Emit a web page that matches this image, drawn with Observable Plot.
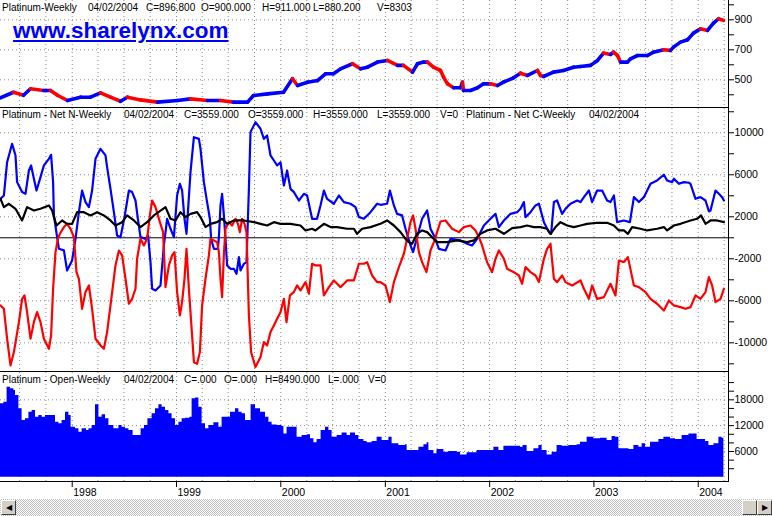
<!DOCTYPE html>
<html><head><meta charset="utf-8">
<script src="https://cdn.jsdelivr.net/npm/d3@7"></script>
<script src="https://cdn.jsdelivr.net/npm/@observablehq/plot@0.6"></script>
<style>
html,body{margin:0;padding:0;background:#fff;}
#wrap{position:relative;width:772px;height:516px;overflow:hidden;font-family:"Liberation Sans",Arial,sans-serif;color:#000;background:#fff;}
.panel{position:absolute;left:0;}
.t{position:absolute;white-space:pre;line-height:1;font-size:10px;}
.ln{position:absolute;background:#000;}
</style></head><body><div id="wrap"></div>
<script>
// ---------------- DATA (week index from 1997-04-25, value) ----------------
const seriesStart = "1997-04-25";
const priceTitle = ["Platinum-Weekly","04/02/2004","C=896.800","O=900.000","H=911.000","L=880.200","V=8303"];
const netTitle = ["Platinum - Net N-Weekly","04/02/2004","C=3559.000","O=3559.000","H=3559.000","L=3559.000","V=0","Platinum - Net C-Weekly","04/02/2004"];
const oiTitle = ["Platinum - Open-Weekly","04/02/2004","C=.000","O=.000","H=8490.000","L=.000","V=0"];
const siteLabel = "www.sharelynx.com";
const yearLabels = ["1998","1999","2000","2001","2002","2003","2004"];

const priceTicks = [400,500,600,700,800,900,1000];
const priceLabels = [500,700,900];
const netTicks = [-12000,-10000,-8000,-6000,-4000,-2000,0,2000,4000,6000,8000,10000,12000];
const netLabels = [-10000,-6000,-2000,2000,6000,10000];
const oiTicks = [2000,4000,6000,8000,10000,12000,14000,16000,18000,20000,22000];
const oiLabels = [6000,12000,18000];

const price = [[0,380],[6.5,417],[11.5,397],[15,440],[21.5,429],[25,429],[28.5,397],[33.5,362],[40,384],[45,384],[50,413],[55,384],[60,357],[63.5,384],[70,366],[78.5,351],[88.5,362],[95,373],[103.5,362],[110,362],[116.5,351],[123.5,351],[126.5,395],[133.5,406],[141.5,417],[146,507],[148.5,462],[153.5,484],[158.5,495],[162.5,540],[166.5,540],[170,573],[176,607],[180,573],[183.5,584],[188.5,618],[193.5,629],[198.5,596],[201.5,596],[206,551],[208.5,607],[211.5,618],[213.5,618],[216.5,584],[220,562],[221.5,518],[223.5,473],[226.5,447],[230,447],[231,484],[231.5,429],[235,429],[238.5,447],[241.5,473],[245,473],[248.5,462],[251.5,484],[256.5,513],[260,544],[263.5,529],[268.5,562],[270,529],[271.5,522],[276.5,551],[281.5,562],[286.5,584],[290,589],[295,596],[298.5,629],[301.5,678],[305,669],[306.5,684],[308.5,662],[310,618],[313.5,618],[315,640],[318.5,662],[323.5,662],[326.5,684],[331.5,700],[335,696],[336.5,718],[340,751],[343.5,767],[346.5,811],[350,840],[353.5,829],[356.5,878],[359,907],[361.5,896]];

const netN = [[0,3710],[1.7,4030],[3.3,7200],[5.8,8950],[7.5,7840],[8.3,5300],[10.8,4350],[12.5,4190],[14.2,6410],[15.3,6890],[16.7,5620],[18,4500],[20,5780],[21.7,6890],[24.2,7520],[25.3,7900],[26.3,5300],[26.7,2130],[28.3,60],[29.2,-1050],[31.7,-1200],[33.3,-3110],[35.8,-2160],[37.5,-100],[39.2,2440],[40.8,4500],[42.5,3400],[44.2,2920],[45.8,4500],[47.5,7520],[50,8470],[52.5,7840],[53.3,6730],[55,4660],[56.7,2440],[58.3,220],[60,60],[62,1970],[64.2,4500],[65.8,4350],[67.5,3550],[68.7,1810],[70,60],[72.5,-100],[73.8,220],[75,-2320],[75.8,-4850],[77.5,-5010],[80,-4540],[81.7,-730],[83.3,1810],[85,860],[86.7,60],[88.3,4030],[89.7,5140],[90.8,4500],[92,1810],[93,380],[95,6250],[96.7,9580],[99.2,9420],[100,8470],[101.7,5300],[103.3,3400],[104.7,1810],[105.3,-100],[106.7,-1050],[108.7,-1050],[109.2,60],[110,3080],[110.8,4190],[111.7,2130],[112.5,-100],[113.3,-2630],[115,-2950],[116.7,-2950],[118,-3430],[119.2,-1840],[120,-3110],[121.7,-2480],[123,-2320],[124.2,4660],[125,10060],[127.5,11010],[130,10380],[131.7,9420],[133.3,9740],[135,7840],[136.7,7360],[138.3,6890],[140,7200],[141.7,4980],[143.3,6410],[145,4660],[146.7,4350],[149.2,3550],[151.7,4190],[153.3,4030],[155.8,1810],[158.3,1810],[160,3080],[161.7,4500],[163.3,3710],[166.7,3240],[169.2,4030],[171.7,3400],[175,3240],[177.5,2920],[179.2,1970],[181.7,1810],[185,2440],[188.3,3240],[190,3140],[193.3,3240],[194.7,4500],[196.7,3080],[198.3,2280],[200.8,2130],[202.5,860],[205,-730],[206.3,-1360],[208.3,60],[210.8,1810],[213.3,2600],[215,860],[216.7,220],[219.2,-1050],[222.5,-1210],[225,-100],[230,-250],[233.3,-570],[235.8,-730],[238.3,-100],[241.7,1170],[245,1810],[247.5,2280],[249.2,1020],[251.7,1650],[255,2280],[258.3,2440],[260,2760],[261.7,3400],[262.5,1970],[265,2440],[267.5,3080],[269.2,3240],[271.7,1490],[274.2,540],[275.3,380],[276.7,3400],[278.3,3550],[280.8,2280],[282.5,2760],[285,3240],[288.3,3550],[290,3400],[291.7,3870],[294.2,4500],[295.8,3400],[298.3,4500],[300.8,4500],[303.3,3550],[305,3400],[306.7,4030],[308.3,1490],[311.7,1650],[314.7,1490],[316.7,3870],[319.2,3400],[321.7,3870],[325,5140],[328.3,5460],[331.7,6000],[333.3,5460],[335.8,5300],[336.7,5620],[339.2,5140],[341.7,5300],[344.2,5240],[345,5140],[347.5,3710],[350,3870],[352.5,3550],[354.2,2510],[355,2600],[357.5,4500],[359.2,4190],[360.8,3870],[361.7,3559]];

const netC = [[0,-6440],[1.7,-6760],[3.3,-9610],[5,-12150],[6.7,-10880],[9.2,-8030],[10.8,-5810],[12,-5490],[13.3,-7080],[15,-9610],[16.7,-8030],[18.3,-7080],[20,-8030],[21.7,-9610],[24.2,-10570],[25.3,-9300],[26.3,-4850],[27.5,-1360],[28.7,-100],[29.7,380],[31.7,1020],[33.3,1330],[35,860],[36.7,60],[38,-3270],[39.2,-3900],[40.8,-6760],[42.5,-5170],[44.2,-4540],[45.8,-6760],[47.5,-9610],[50,-10250],[51.7,-10570],[53.3,-8980],[55,-6440],[57.5,-2630],[59.2,-1210],[60.8,-1680],[62.5,-3900],[64.2,-6280],[65.8,-5810],[67.5,-4850],[68.3,-2000],[70,-100],[71.7,-730],[73.3,-100],[74.7,2130],[75.8,3550],[77.5,2920],[79.7,1490],[81.3,540],[82.5,-4700],[84.2,-2630],[85.8,-1680],[87,-1360],[88.3,-5170],[89.7,-7390],[90.8,-6120],[92,-3900],[93,-1050],[94.2,-4850],[95.8,-9300],[96.7,-11840],[98.3,-11990],[99.7,-10880],[100.8,-6440],[102.5,-3900],[104.2,-1680],[105,-100],[106.7,-250],[108.3,-410],[109.2,-1360],[110,-3900],[110.8,-5650],[111.7,-1520],[112.5,860],[114.2,1490],[115.8,1170],[117.5,1810],[118.7,1330],[119.7,540],[120.8,1810],[122,1330],[123,540],[124.2,-7390],[125.3,-10880],[127.5,-12310],[130,-11360],[131.7,-9930],[133.3,-10250],[135,-8980],[136.7,-8340],[138.3,-7710],[140,-7080],[141.7,-5810],[143,-8030],[144.7,-5490],[146.7,-5170],[148.3,-4540],[150,-5010],[152.5,-4220],[154.2,-5330],[155.8,-2470],[157.5,-2630],[160,-2630],[161.7,-5490],[164.2,-4700],[166.7,-4060],[170,-4700],[173.3,-4060],[176.7,-4060],[179.2,-2470],[181.7,-2470],[183.3,-2320],[185.8,-3590],[188.3,-4220],[190,-4220],[192.5,-4540],[194.7,-6120],[196.7,-4220],[199.2,-2790],[201.7,-1520],[203.3,-100],[205,1490],[206.3,2130],[207.5,860],[209.2,-1360],[210.8,-2320],[213,-3270],[215,-1210],[216.7,-410],[218.3,540],[220,1550],[222.5,1650],[225.8,860],[229.2,540],[231.7,1020],[235,1170],[237.5,700],[239.2,60],[240.8,-730],[243.3,-2320],[245.8,-3270],[247.5,-2000],[249.2,-1210],[251.7,-2000],[253.3,-2950],[256.7,-3270],[259.2,-3590],[260.8,-4380],[262.5,-2790],[265,-3270],[267.5,-3590],[269.2,-4220],[271.7,-2000],[273.3,-1050],[275,-570],[276.7,-3900],[278.3,-4220],[280.8,-3590],[282.5,-4220],[285.8,-4540],[290,-4060],[291.7,-4850],[294.2,-5810],[295.8,-4540],[298.3,-5810],[301.7,-5650],[305,-4380],[307.5,-5490],[309.2,-2160],[311.7,-2320],[313.7,-1840],[316.7,-4540],[319.2,-4700],[322.5,-5170],[325,-5810],[328.3,-6280],[331.7,-6920],[334.2,-5970],[336.7,-6440],[340,-6600],[342.5,-6760],[345,-6600],[347.5,-5490],[350,-5810],[352.5,-5170],[354.2,-3740],[355.8,-4540],[357.5,-6120],[360,-5810],[361.7,-4850]];

const netNR = [[0,3710],[1.7,2920],[4.2,3240],[7.5,2760],[10.8,1650],[13.3,2920],[16.7,2600],[20,2760],[24.2,3080],[25.8,2600],[28,1170],[30.8,1650],[33.3,1330],[35.8,1330],[38.3,2440],[41.7,2440],[45,2130],[48.3,2440],[51.7,2130],[55,1650],[57.5,1170],[60.8,1490],[63.3,2130],[66.7,1650],[70,1020],[73.3,1490],[76.7,2130],[82.5,2920],[85,1810],[87.5,1650],[90,2440],[92.5,1970],[95,2280],[98.3,2440],[100,1970],[102.5,1020],[105,1330],[108.3,1490],[110.8,1810],[113.3,1330],[116.7,1650],[121.7,1650],[126.7,1490],[130,1330],[133.3,1170],[136.7,1490],[140,1330],[145,1330],[150,1170],[152.5,700],[155.8,860],[157.5,700],[161.7,1330],[165,1020],[168.3,1020],[173.3,860],[176.7,860],[178.3,380],[180.8,860],[185,1020],[190,1330],[193.3,1650],[196.7,1170],[200,540],[202.5,-100],[204.2,-410],[205.8,-570],[208.3,380],[210.8,700],[213.3,540],[215.8,60],[218.3,-410],[223.3,-410],[228.3,-250],[233.3,-410],[236.7,-250],[240,380],[243.3,700],[247.5,860],[251.7,380],[255.8,920],[260,1020],[263.3,1170],[266.7,1020],[270,1020],[273.3,860],[275,380],[277.5,1020],[280,1490],[283.3,1170],[286.7,1020],[290,1170],[293.3,1330],[298.3,1430],[303.3,1430],[306.7,1170],[309.2,700],[311.7,700],[313.7,380],[315.8,1020],[320,860],[323.3,700],[328.3,860],[331.7,1020],[333.3,700],[336.7,1170],[340,1330],[345,1650],[348.3,1810],[350.3,2130],[352.5,1330],[355,1650],[358.3,1650],[361.7,1490]];

const openInterest = [[0,17060],[1.7,17450],[3.3,20930],[5,20540],[6.7,20150],[7.5,18990],[9.2,15900],[10.8,13190],[12.5,13580],[14.2,15130],[15.8,15510],[17.5,13970],[19.2,14350],[20.8,13970],[22.5,14350],[25.8,14350],[27.5,12800],[29.2,12420],[30.8,13190],[32.5,15130],[34.2,14350],[35.3,11640],[37.5,11260],[39.2,10480],[40.8,11260],[43,10870],[44.2,11260],[45.8,12030],[47.5,16830],[49.2,13970],[50.8,14510],[52.5,13580],[54.2,12030],[56.7,11260],[59.2,12030],[60.8,11640],[62.5,11260],[64.2,10870],[66.3,9710],[68.7,9710],[70.3,11260],[72,12030],[73.7,13580],[75.8,14740],[77.5,15900],[79.2,16830],[80.8,16290],[82.5,15510],[84.2,14740],[85.8,13580],[87.5,12030],[89.2,12800],[90.8,13580],[92.5,13740],[94.7,13970],[95.8,18220],[97.5,18450],[99.2,16290],[100.8,12420],[102.5,11260],[104.2,12030],[106.7,12650],[109.2,11640],[110.8,13970],[113.3,13970],[115,15130],[117.5,15900],[119.2,15130],[120.8,14740],[122.5,13190],[124.2,13190],[125.3,16830],[127.5,15900],[130,15130],[132.5,13970],[134.2,12800],[135.8,12180],[138.3,12030],[140.8,11790],[141.7,10090],[143.3,11640],[146.7,11640],[148.3,9320],[150.8,9710],[153.3,9870],[155,8940],[156.7,8010],[158.3,8780],[160.3,10870],[162.5,11640],[164.2,10870],[165.8,9320],[168.3,9710],[170.8,10320],[173.3,9710],[175,10320],[177.5,9710],[179.2,8780],[181.7,8320],[183.3,8010],[185.8,8320],[188.3,9320],[190.8,8550],[194.2,9320],[195.8,7780],[199.2,7390],[202.5,7550],[203.3,6230],[209.2,7000],[211.7,7550],[213.3,8010],[214.2,6230],[216.7,5460],[218.3,6460],[221.7,5840],[224.2,6000],[228.3,5840],[230,5220],[233.3,5690],[238.3,6230],[241.7,6230],[246.7,7000],[249.2,6230],[251.7,7230],[255,7230],[260,7000],[261.3,7390],[263.3,6000],[266.7,6620],[269.2,7390],[270.8,6230],[273.3,5220],[275.8,5840],[278.3,7390],[280.8,7230],[284.2,7390],[288.3,7550],[290,8160],[293.3,9320],[296.7,8940],[300,9090],[303.3,8550],[305.8,9470],[307.5,9320],[309.2,6620],[314.2,6460],[316.7,7390],[319.2,7000],[320.8,7780],[322.5,7000],[325,8160],[329.2,8780],[331.7,9320],[335,8940],[337.5,8780],[340.8,9710],[344.2,10090],[345.8,10090],[348.3,8780],[352.5,8320],[354.2,7390],[356.7,7780],[359.2,9320],[360.8,9090],[361.7,8490]];

// ---------------- LAYOUT ----------------
const wrap = document.getElementById("wrap");
const t0 = new Date(seriesStart + "T00:00:00Z");
const toDate = w => new Date(+t0 + w * 7 * 864e5);
const xDomain = [toDate(0), new Date("2004-04-16T00:00:00Z")];
const quarters = d3.utcMonth.every(3).range(xDomain[0], xDomain[1]);
const years = d3.utcYear.range(xDomain[0], xDomain[1]);

const W = 772, MR = 44;
const FONT = '"Liberation Sans", Arial, sans-serif';
const style = {fontFamily: FONT, fontSize: "10.5px", color: "#000", background: "transparent", overflow: "visible"};
const dotted = {stroke: "#8a8a8a", strokeDasharray: "1,3", strokeWidth: 1};
const yAxis = (domain, ticks, labels) => ({
  domain, axis: "right", ticks, tickSize: 5, tickPadding: 1, label: null,
  tickFormat: d => labels.includes(d) ? String(d) : ""
});

function place(node, top) {
  node.classList.add("panel");
  node.style.top = top + "px";
  wrap.appendChild(node);
}

// Panel 1: price
const segs = price.slice(1).map((d, i) => ({a: price[i], b: d}));
place(Plot.plot({
  width: W, height: 107, marginLeft: 0, marginRight: MR, marginTop: 0, marginBottom: 0, style,
  x: {type: "utc", domain: xDomain, axis: null},
  y: yAxis([315.3, 1028.7], priceTicks, priceLabels),
  color: {type: "identity"},
  marks: [
    Plot.ruleX(quarters, {x: d => d, ...dotted}),
    Plot.ruleY(priceLabels, {y: d => d, ...dotted}),
    Plot.link(segs, {
      x1: s => toDate(s.a[0]), y1: s => s.a[1], x2: s => toDate(s.b[0]), y2: s => s.b[1],
      stroke: s => s.b[1] >= s.a[1] ? "#0000ff" : "#ff0000", strokeWidth: 3.6, strokeLinecap: "round"
    })
  ]
}), 0);

// Panel 2: net positions
const lineOpts = (data, color) => Plot.line(data, {x: d => toDate(d[0]), y: d => d[1], stroke: color, strokeWidth: 2.2});
place(Plot.plot({
  width: W, height: 263, marginLeft: 0, marginRight: MR, marginTop: 0, marginBottom: 0, style,
  x: {type: "utc", domain: xDomain, axis: null},
  y: yAxis([-12730, 12310], netTicks, netLabels),
  marks: [
    Plot.ruleX(quarters, {x: d => d, ...dotted}),
    Plot.ruleY(netLabels, {y: d => d, ...dotted}),
    Plot.ruleY([0], {stroke: "#000", strokeWidth: 1}),
    lineOpts(netN, "#0000ff"),
    lineOpts(netC, "#ff0000"),
    lineOpts(netNR, "#000000")
  ]
}), 108);

// Panel 3: open interest
place(Plot.plot({
  width: W, height: 129, marginLeft: 0, marginRight: MR, marginTop: 0, marginBottom: 20, style,
  x: {type: "utc", domain: xDomain, axis: "bottom", ticks: years, tickSize: 6, tickFormat: () => "", label: null},
  y: yAxis([-960, 24340], oiTicks, oiLabels),
  marks: [
    Plot.ruleX(quarters, {x: d => d, ...dotted}),
    Plot.ruleY(oiLabels, {y: d => d, ...dotted}),
    Plot.areaY(openInterest, {x: d => toDate(d[0]), y: d => d[1], fill: "#0000ff", curve: "step-after"}),
    Plot.text(years, {x: d => d, text: (d, i) => yearLabels[i], frameAnchor: "bottom", textAnchor: "start", lineAnchor: "top", dx: 1, dy: 7, fontSize: 10.5})
  ]
}), 372);

// frame lines
function line(l, t, w, h) {
  const d = document.createElement("div");
  d.className = "ln";
  Object.assign(d.style, {left: l + "px", top: t + "px", width: w + "px", height: h + "px"});
  wrap.appendChild(d);
}
line(0, 107, 728, 1);
line(0, 371, 728, 1);
line(0, 481, 728, 1);
line(728, 0, 1, 482);

// titles
function text(str, left, baseline, extra = {}) {
  const d = document.createElement("div");
  d.className = "t";
  d.textContent = str;
  const fs = extra.fontSize || 10;
  Object.assign(d.style, {left: left + "px", top: (baseline - 0.85 * fs) + "px"}, extra.css || {});
  if (extra.fontSize) d.style.fontSize = fs + "px";
  wrap.appendChild(d);
}
const priceTitleX = [2, 88, 146, 201, 262, 313, 377];
const netTitleX = [2, 124, 184, 248, 313, 377, 440, 466, 589];
const oiTitleX = [2, 124, 184, 224, 265, 328, 368];
priceTitle.forEach((s, i) => text(s, priceTitleX[i], 11));
netTitle.forEach((s, i) => text(s, netTitleX[i], 118.5));
oiTitle.forEach((s, i) => text(s, oiTitleX[i], 383.5));
text(siteLabel, 13, 39, {fontSize: 22.5, css: {fontWeight: "bold", color: "#0000ff", textDecoration: "underline", textDecorationThickness: "2px", textUnderlineOffset: "2px"}});

// scrollbar
const sb = document.createElement("div");
Object.assign(sb.style, {position: "absolute", left: "0px", top: "499px", width: "772px", height: "17px",
  background: "repeating-conic-gradient(#c0c0c0 0 25%, #ffffff 0 50%) 0 0/2px 2px"});
wrap.appendChild(sb);
function btn(l, w, arrow) {
  const b = document.createElement("div");
  Object.assign(b.style, {position: "absolute", left: l + "px", top: "500px", width: w + "px", height: "15px", boxSizing: "border-box",
    background: "#d4d0c8", borderTop: "1px solid #fff", borderLeft: "1px solid #fff", borderRight: "1px solid #404040", borderBottom: "1px solid #404040",
    fontSize: "8px", lineHeight: "13px", textAlign: "center", color: "#000"});
  b.textContent = arrow;
  wrap.appendChild(b);
}
btn(1, 15, "◀");
btn(742, 15, "");
btn(757, 15, "▶");
</script></body></html>
